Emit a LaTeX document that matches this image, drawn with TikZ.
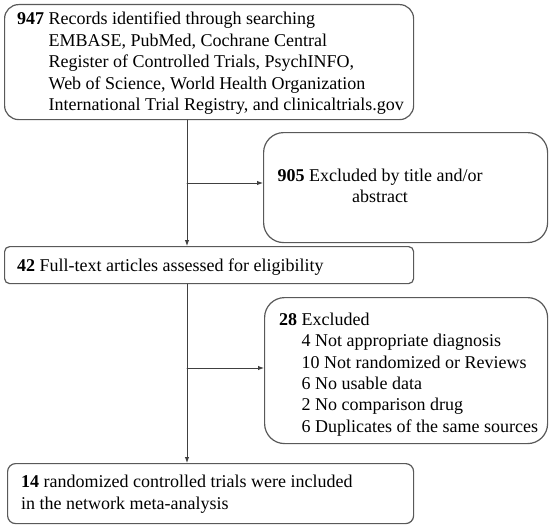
\documentclass[tikz,border=0pt]{standalone}
\usepackage{fontspec}
\setmainfont{Liberation Serif}
\usetikzlibrary{arrows.meta}

\begin{document}
\begin{tikzpicture}[x=1pt, y=-1pt, line cap=round, line join=round,
  box/.style={draw=black!65, line width=1.2pt, inner sep=0pt, anchor=north west},
  txt/.style={anchor=west, inner sep=0pt, font=\fontsize{18}{21.4}\selectfont, align=left},
  flow/.style={-{Latex[length=6pt,width=4.5pt]}, line width=1pt, black!75}]

\useasboundingbox (0,0) rectangle (553,527);

% Riquadri
\node[box, rounded corners=14pt, minimum width=409pt, minimum height=115pt] (records) at (4,4) {};
\node[box, rounded corners=20pt, minimum width=284pt, minimum height=110pt] (title) at (263,132) {};
\node[box, rounded corners=5pt, minimum width=409pt, minimum height=37pt] (fulltext) at (4,246) {};
\node[box, rounded corners=20pt, minimum width=283pt, minimum height=146pt] (excluded) at (264,297) {};
\node[box, rounded corners=8pt, minimum width=406pt, minimum height=60pt] (included) at (7,463) {};

% Testi
\node[txt] (recordstxt) at (17,63.5) {\begin{tabular}{@{}l@{\ }l@{}}
  \textbf{947} & Records identified through searching\\
  & EMBASE, PubMed, Cochrane Central\\
  & Register of Controlled Trials, PsychINFO,\\
  & Web of Science, World Health Organization\\
  & International Trial Registry, and clinicaltrials.gov
\end{tabular}};
\node[txt, anchor=center, align=center] (titletxt) at (380,186) {\textbf{905} Excluded by title and/or\\abstract};
\node[txt] (fulltexttxt) at (17,267) {\textbf{42} Full-text articles assessed for eligibility};
\node[txt] (excludedtxt) at (279,374.5) {\begin{tabular}{@{}l@{\ }l@{}}
  \textbf{28} & Excluded\\
  & 4 Not appropriate diagnosis\\
  & 10 Not randomized or Reviews\\
  & 6 No usable data\\
  & 2 No comparison drug\\
  & 6 Duplicates of the same sources
\end{tabular}};
\node[txt] (includedtxt) at (21,494) {\textbf{14} randomized controlled trials were included\\in the network meta-analysis};

% Frecce
\coordinate (split1) at (187,183);
\coordinate (split2) at (187,368);
\draw[flow] (records.south -| split1) -- (fulltext.north -| split1);
\draw[flow] (split1) -- (split1 -| title.west);
\draw[flow] (fulltext.south -| split2) -- (included.north -| split2);
\draw[flow] (split2) -- (split2 -| excluded.west);

\end{tikzpicture}
\end{document}
